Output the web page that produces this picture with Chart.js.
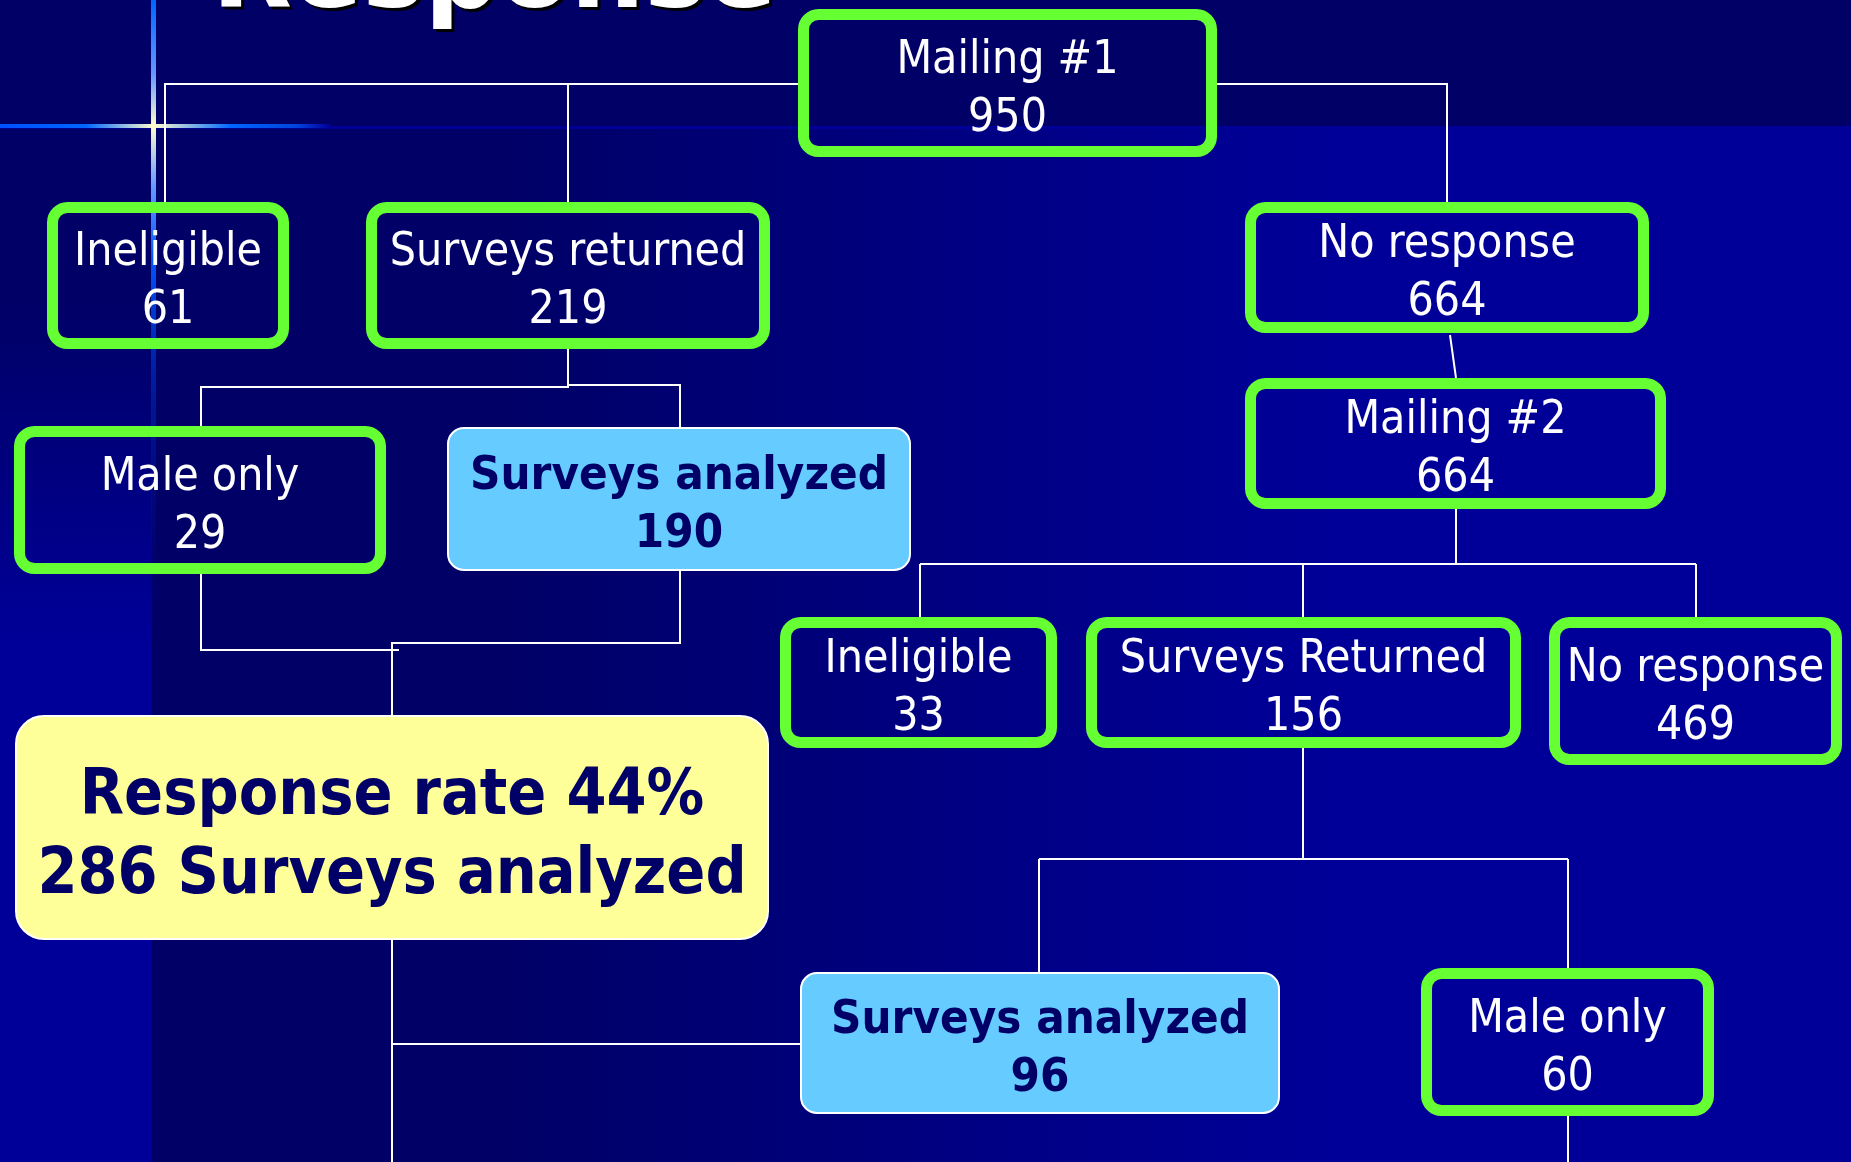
<!DOCTYPE html>
<html>
<head>
<meta charset="utf-8">
<title>Response</title>
<script src="https://cdn.jsdelivr.net/npm/chart.js@4/dist/chart.umd.min.js"></script>
<style>
  html, body { margin: 0; padding: 0; background: #000066; overflow: hidden; }
  #wrap { width: 1851px; height: 1162px; }
</style>
</head>
<body>
<div id="wrap"><canvas id="flow"></canvas></div>
<script>
// data
const titleText = 'Response';
const nodeLabels = ['Mailing #1', 'Ineligible', 'Surveys returned', 'No response', 'Mailing #2',
  'Male only', 'Surveys analyzed', 'Ineligible', 'Surveys Returned', 'No response',
  'Surveys analyzed', 'Male only'];
const nodeCounts = [950, 61, 219, 664, 664, 29, 190, 33, 156, 469, 96, 60];
const summaryLines = ['Response rate 44%', '286 Surveys analyzed'];

// layout, in slide units (same range as the hidden axes)
const nodeBoxes = [
  [798, 9, 1217, 157], [47, 202, 289, 349], [366, 202, 770, 349], [1245, 202, 1649, 333],
  [1245, 378, 1666, 509], [14, 426, 386, 574], [447, 427, 911, 571], [780, 617, 1057, 748],
  [1086, 617, 1521, 748], [1549, 617, 1842, 765], [800, 972, 1280, 1114], [1421, 968, 1714, 1116]
];
const nodeKinds = ['outline', 'outline', 'outline', 'outline', 'outline', 'outline', 'analyzed',
  'outline', 'outline', 'outline', 'analyzed', 'outline'];
const summaryBox = [15, 715, 769, 940];
const connectors = [
  [[798, 84], [165, 84], [165, 202]],
  [[568, 84], [568, 202]],
  [[1217, 84], [1447, 84], [1447, 202]],
  [[568, 349], [568, 387], [201, 387], [201, 426]],
  [[568, 385], [680, 385], [680, 427]],
  [[201, 574], [201, 650], [399, 650]],
  [[680, 571], [680, 643], [392, 643], [392, 715]],
  [[392, 940], [392, 1162]],
  [[392, 1044], [800, 1044]],
  [[1450, 335], [1456, 378]],
  [[1456, 509], [1456, 564]],
  [[920, 564], [1696, 564]],
  [[920, 564], [920, 617]],
  [[1303, 564], [1303, 617]],
  [[1696, 564], [1696, 617]],
  [[1303, 748], [1303, 859]],
  [[1039, 859], [1568, 859]],
  [[1039, 859], [1039, 972]],
  [[1568, 859], [1568, 968]],
  [[1568, 1116], [1568, 1162]]
];

const W = 1851, H = 1162;
const bandY = 126, stripX = 154;
const condensed = '"DejaVu Sans Condensed", "DejaVu Sans", sans-serif';

const background = {
  id: 'background',
  beforeDraw(chart) {
    const ctx = chart.ctx;
    ctx.save();
    // lower area, dark on the left going brighter to the right
    let g = ctx.createLinearGradient(stripX, 0, W, 0);
    g.addColorStop(0, '#000066');
    g.addColorStop(0.2, '#000066');
    g.addColorStop(0.7, '#000099');
    g.addColorStop(1, '#000099');
    ctx.fillStyle = g;
    ctx.fillRect(0, 0, W, H);
    // left strip
    g = ctx.createLinearGradient(0, 300, 0, 650);
    g.addColorStop(0, '#000066');
    g.addColorStop(1, '#000099');
    ctx.fillStyle = g;
    ctx.fillRect(0, bandY, stripX - 2, H - bandY);
    // top band
    ctx.fillStyle = '#000066';
    ctx.fillRect(0, 0, W, bandY);
    ctx.fillStyle = '#000099';
    ctx.fillRect(0, bandY, W, 3);

    // light streaks
    g = ctx.createLinearGradient(0, 0, 330, 0);
    g.addColorStop(0, '#0050ff');
    g.addColorStop(0.26, '#0066ff');
    g.addColorStop(0.466, '#ffffcc');
    g.addColorStop(0.7, '#0066ff');
    g.addColorStop(0.9, '#0044dd');
    g.addColorStop(1, '#000099');
    ctx.fillStyle = g;
    ctx.fillRect(0, bandY - 2, 330, 4);
    g = ctx.createLinearGradient(0, 0, 0, 620);
    g.addColorStop(0, '#0066ff');
    g.addColorStop(0.12, '#6699ff');
    g.addColorStop(0.203, '#ffffcc');
    g.addColorStop(0.3, '#6699ff');
    g.addColorStop(0.42, '#0055ff');
    g.addColorStop(0.6, 'rgba(0,60,220,0.5)');
    g.addColorStop(1, 'rgba(0,0,153,0)');
    ctx.fillStyle = g;
    ctx.fillRect(stripX - 3, 0, 5, 620);

    // title, mostly above the top edge
    ctx.font = 'bold 104px "DejaVu Sans", sans-serif';
    ctx.textBaseline = 'alphabetic';
    ctx.textAlign = 'left';
    ctx.fillStyle = '#000000';
    ctx.fillText(titleText, 215, 10);
    ctx.fillStyle = '#ffffff';
    ctx.fillText(titleText, 212, 7);
    ctx.restore();
  }
};

function box(chart, b) {
  const x = chart.scales.x, y = chart.scales.y;
  const x0 = x.getPixelForValue(b[0]), x1 = x.getPixelForValue(b[2]);
  const y0 = y.getPixelForValue(b[1]), y1 = y.getPixelForValue(b[3]);
  return { x0, y0, w: x1 - x0, h: y1 - y0, cx: (x0 + x1) / 2, cy: (y0 + y1) / 2 };
}

function lines(ctx, texts, cx, cy, gap) {
  texts.forEach((t, i) => {
    ctx.fillText(t, cx, cy + (i - (texts.length - 1) / 2) * gap);
  });
}

const nodes = {
  id: 'nodes',
  afterDatasetsDraw(chart) {
    const ctx = chart.ctx;
    ctx.save();
    ctx.textAlign = 'center';
    ctx.textBaseline = 'middle';

    nodeLabels.forEach((label, i) => {
      const r = box(chart, nodeBoxes[i]);
      const text = [label, String(nodeCounts[i])];
      if (nodeKinds[i] === 'analyzed') {
        ctx.beginPath();
        ctx.roundRect(r.x0 + 1, r.y0 + 1, r.w - 2, r.h - 2, 16);
        ctx.fillStyle = '#66ccff';
        ctx.fill();
        ctx.lineWidth = 2;
        ctx.strokeStyle = '#ffffff';
        ctx.stroke();
        ctx.fillStyle = '#000066';
        ctx.font = 'bold 47px ' + condensed;
      } else {
        ctx.beginPath();
        ctx.roundRect(r.x0 + 5.5, r.y0 + 5.5, r.w - 11, r.h - 11, 15);
        ctx.lineWidth = 11;
        ctx.strokeStyle = '#66ff33';
        ctx.stroke();
        ctx.fillStyle = '#ffffff';
        ctx.font = '46px ' + condensed;
      }
      lines(ctx, text, r.cx, r.cy + 7, 58);
    });

    const s = box(chart, summaryBox);
    ctx.beginPath();
    ctx.roundRect(s.x0 + 1, s.y0 + 1, s.w - 2, s.h - 2, 28);
    ctx.fillStyle = '#ffff99';
    ctx.fill();
    ctx.lineWidth = 2;
    ctx.strokeStyle = '#ffffff';
    ctx.stroke();
    ctx.fillStyle = '#000066';
    ctx.font = 'bold 64px ' + condensed;
    lines(ctx, summaryLines, s.cx, s.cy + 9, 79);
    ctx.restore();
  }
};

new Chart(document.getElementById('flow'), {
  type: 'scatter',
  data: {
    datasets: connectors.map(pts => ({
      data: pts.map(p => ({ x: p[0], y: p[1] })),
      showLine: true,
      borderColor: '#ffffff',
      borderWidth: 2,
      pointRadius: 0,
      pointHoverRadius: 0,
      tension: 0
    }))
  },
  options: {
    responsive: true,
    maintainAspectRatio: false,
    animation: false,
    events: [],
    layout: { padding: 0 },
    scales: {
      x: { type: 'linear', min: 0, max: W, display: false },
      y: { type: 'linear', min: 0, max: H, reverse: true, display: false }
    },
    plugins: { legend: { display: false }, tooltip: { enabled: false } }
  },
  plugins: [background, nodes]
});
</script>
</body>
</html>
